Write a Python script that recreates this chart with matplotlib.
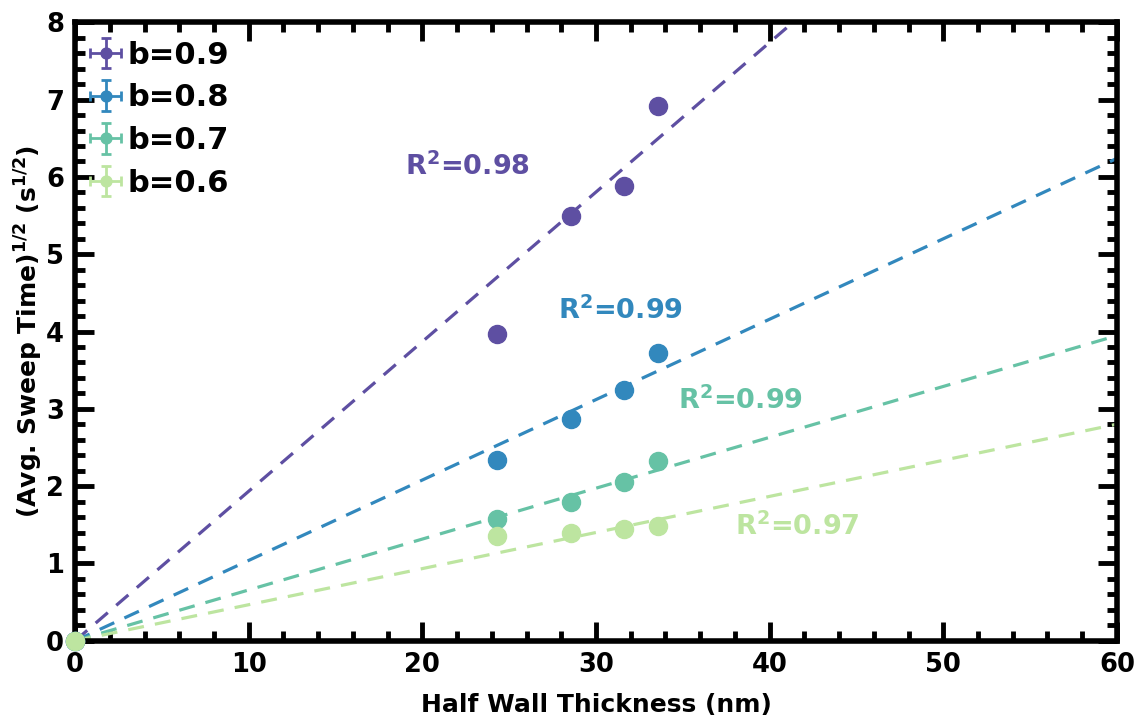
import numpy as np
import matplotlib.pyplot as plt
from matplotlib.ticker import MultipleLocator

# half wall thickness (nm), origin included for every series
thickness = [0, 24.3, 28.55, 31.6, 33.56]

# (avg. sweep time)^1/2 for each b value
b09 = [0, 3.97, 5.50, 5.88, 6.92]
b08 = [0, 2.34, 2.87, 3.24, 3.72]
b07 = [0, 1.57, 1.79, 2.05, 2.33]
b06 = [0, 1.35, 1.40, 1.45, 1.49]

# slopes of the linear fits through the origin
slopes = [0.1935, 0.104, 0.0658, 0.0467]
r2_text = ['0.98', '0.99', '0.99', '0.97']
r2_pos = [(22.6, 6.13), (31.4, 4.27), (38.3, 3.10), (41.6, 1.47)]

labels = ['b=0.9', 'b=0.8', 'b=0.7', 'b=0.6']
colors = ['#5e4fa2', '#3288bd', '#66c2a5', '#bde5a0']

plt.rcParams['font.family'] = ['DejaVu Sans']
plt.rcParams['font.weight'] = 'bold'
plt.rcParams['mathtext.default'] = 'bf'

fig = plt.figure(figsize=(11.38, 7.2), dpi=100)
ax = fig.add_axes([0.066, 0.11, 0.9155, 0.859])

series = [b09, b08, b07, b06]
xfit = np.array([0, 60])
for ys, k, c in zip(series, slopes, colors):
    ax.plot(xfit, k * xfit, ls=(0, (5, 3.5)), lw=2.3, color=c, zorder=2)

for ys, lab, c in zip(series, labels, colors):
    ax.errorbar(thickness, ys, xerr=0, yerr=0, fmt='o', ms=13, color=c,
                ecolor=c, elinewidth=2, capsize=3.5, capthick=2,
                label=lab, clip_on=False, zorder=3)

for (x, y), t, c in zip(r2_pos, r2_text, colors):
    ax.text(x, y, r'R$^{\mathbf{2}}$=' + t, color=c, fontsize=19.5,
            fontweight='bold', ha='center', va='center')

ax.set_xlim(0, 60)
ax.set_ylim(0, 8)
ax.xaxis.set_major_locator(MultipleLocator(10))
ax.xaxis.set_minor_locator(MultipleLocator(2))
ax.yaxis.set_major_locator(MultipleLocator(1))
ax.yaxis.set_minor_locator(MultipleLocator(0.2))
ax.tick_params(which='both', direction='in', top=True, right=True,
               labelsize=18.5, width=3.5, pad=8)
ax.tick_params(which='major', length=14)
ax.tick_params(which='minor', length=7)
for lab in ax.get_xticklabels() + ax.get_yticklabels():
    lab.set_fontweight('bold')
for sp in ax.spines.values():
    sp.set_linewidth(4)

ax.set_xlabel('Half Wall Thickness (nm)', fontsize=18, fontweight='bold', labelpad=11)
ax.set_ylabel(r'(Avg. Sweep Time)$^{\mathbf{1/2}}$ (s$^{\mathbf{1/2}}$)',
              fontsize=18, fontweight='bold', labelpad=1)

leg = ax.legend(loc='upper left', frameon=False, fontsize=22,
                handlelength=0.8, handletextpad=0.3, labelspacing=0.45,
                borderaxespad=0.2, markerscale=0.6)
for t in leg.get_texts():
    t.set_fontweight('bold')

fig.savefig('out.png', dpi=100, facecolor='w')
